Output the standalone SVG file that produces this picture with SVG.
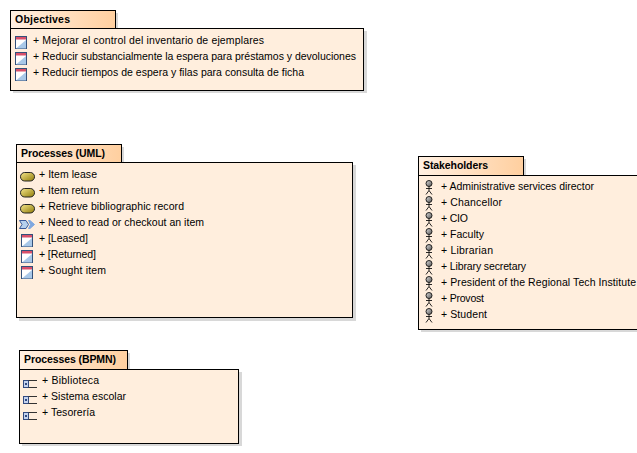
<svg xmlns="http://www.w3.org/2000/svg" width="637" height="453" viewBox="0 0 637 453">
<style>
.body{fill:#ffeedd;stroke:#000;stroke-width:1}
.tab{fill:url(#tabg);stroke:#000;stroke-width:1}
.sh{fill:#d8d8d8}
text{font-family:"Liberation Sans",Arial,sans-serif;font-size:10.5px;fill:#000}
.t{font-weight:bold;font-size:10.5px}
</style>
<defs>
<linearGradient id="tabg" x1="0" x2="1" y1="0" y2="0"><stop offset="0" stop-color="#fff0e2"/><stop offset="1" stop-color="#ffcf9f"/></linearGradient>
<linearGradient id="pill" x1="0" x2="1" y1="0" y2="1"><stop offset="0" stop-color="#f6e68c"/><stop offset="1" stop-color="#8f7c08"/></linearGradient>
<linearGradient id="head" x1="0" x2="1" y1="0" y2="1"><stop offset="0" stop-color="#ddd"/><stop offset="1" stop-color="#555"/></linearGradient>
<g id="state"><rect x="0.5" y="0.5" width="11" height="12" fill="#fff" stroke="#33507a"/><rect x="1" y="1" width="10" height="2.5" fill="#d8506a"/><path d="M1 12.500L11 4V12.500Z" fill="#a9c8e8"/></g>
<g id="usecase"><rect x="0.5" y="0.500" width="14" height="8.500" rx="4.200" fill="url(#pill)" stroke="#222"/></g>
<g id="event"><path d="M0.500 0.500H7L9.500 4.500L7 8.500H0.500L3 4.500Z" fill="#b6d0ee" stroke="#3a5a9a"/><path d="M9.500 0.500H11L15.500 4.500L11 8.500H9.500L11.500 4.500Z" fill="#7fa8e0" stroke="#7fa8e0"/></g>
<g id="actor" fill="none" stroke="#111" stroke-width="0.900"><circle cx="5" cy="3.500" r="3" fill="url(#head)"/><path d="M5 6.500V10.500M2 8.500H8M5 10.500L2 14.500M5 10.500L8 14.500"/></g>
<g id="pool"><rect x="0.500" y="2.500" width="5" height="7" fill="#c5d3ee" stroke="#334a80"/><rect x="2" y="5" width="2" height="2" fill="#334a80"/><path d="M5.500 2.500H14M5.500 9.500H14" stroke="#333" fill="none"/></g>
</defs>
<g id="connectors"/>
<g id="objectives">
<rect class="sh" x="13" y="13" width="105" height="18"/><rect class="sh" x="13" y="31" width="354" height="62"/>
<rect class="tab" x="10.500" y="10.500" width="105" height="18"/><rect class="body" x="10.500" y="28.500" width="353" height="62"/>
<text class="t" x="15" y="23" textLength="55">Objectives</text>
<use href="#state" x="15" y="36"/><use href="#state" x="15" y="52"/><use href="#state" x="15" y="68"/>
<text x="33" y="44" textLength="231">+ Mejorar el control del inventario de ejemplares</text>
<text x="33" y="60" textLength="323">+ Reducir substancialmente la espera para préstamos y devoluciones</text>
<text x="33" y="76" textLength="271">+ Reducir tiempos de espera y filas para consulta de ficha</text>
</g>
<g id="processes-uml">
<rect class="sh" x="19" y="147" width="105" height="18"/><rect class="sh" x="19" y="165" width="337" height="156"/>
<rect class="tab" x="16.500" y="144.500" width="105" height="18"/><rect class="body" x="16.500" y="162.500" width="336" height="155"/>
<text class="t" x="21" y="157" textLength="84">Processes (UML)</text>
<use href="#usecase" x="20" y="172"/><use href="#usecase" x="20" y="188"/><use href="#usecase" x="20" y="204"/><use href="#event" x="19" y="220"/>
<use href="#state" x="21" y="234"/><use href="#state" x="21" y="250"/><use href="#state" x="21" y="266"/>
<text x="39" y="178" textLength="58">+ Item lease</text>
<text x="39" y="194" textLength="60">+ Item return</text>
<text x="39" y="210" textLength="145">+ Retrieve bibliographic record</text>
<text x="39" y="226" textLength="165">+ Need to read or checkout an item</text>
<text x="39" y="242" textLength="49">+ [Leased]</text>
<text x="39" y="258" textLength="57">+ [Returned]</text>
<text x="39" y="274" textLength="67">+ Sought item</text>
</g>
<g id="stakeholders">
<rect class="sh" x="421" y="159" width="105" height="19"/><rect class="sh" x="421" y="178" width="216" height="154"/>
<rect class="tab" x="418.500" y="156.500" width="105" height="19"/><rect class="body" x="418.500" y="175.500" width="222" height="154"/>
<text class="t" x="423" y="169" textLength="65">Stakeholders</text>
<use href="#actor" x="424" y="180"/><use href="#actor" x="424" y="196"/><use href="#actor" x="424" y="212"/><use href="#actor" x="424" y="228"/><use href="#actor" x="424" y="244"/><use href="#actor" x="424" y="260"/><use href="#actor" x="424" y="276"/><use href="#actor" x="424" y="292"/><use href="#actor" x="424" y="308"/>
<text x="441" y="190" textLength="153">+ Administrative services director</text>
<text x="441" y="206" textLength="61">+ Chancellor</text>
<text x="441" y="222" textLength="27">+ CIO</text>
<text x="441" y="238" textLength="43">+ Faculty</text>
<text x="441" y="254" textLength="52">+ Librarian</text>
<text x="441" y="270" textLength="85">+ Library secretary</text>
<text x="441" y="286" textLength="195">+ President of the Regional Tech Institute</text>
<text x="441" y="302" textLength="43">+ Provost</text>
<text x="441" y="318" textLength="46">+ Student</text>
</g>
<g id="processes-bpmn">
<rect class="sh" x="22" y="353" width="108" height="19"/><rect class="sh" x="22" y="372" width="220" height="74"/>
<rect class="tab" x="19.500" y="350.500" width="108" height="19"/><rect class="body" x="19.500" y="369.500" width="219" height="74"/>
<text class="t" x="24" y="363" textLength="92">Processes (BPMN)</text>
<use href="#pool" x="23" y="378"/><use href="#pool" x="23" y="394"/><use href="#pool" x="23" y="410"/>
<text x="42" y="384" textLength="57">+ Biblioteca</text>
<text x="42" y="400" textLength="84">+ Sistema escolar</text>
<text x="42" y="416" textLength="53">+ Tesorería</text>
</g>
</svg>
